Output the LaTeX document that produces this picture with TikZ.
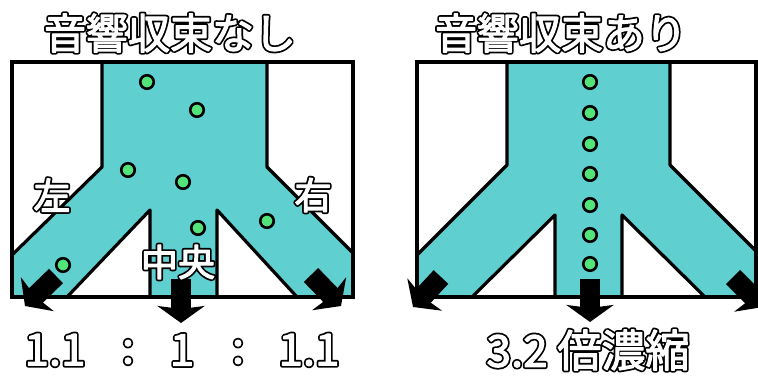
\documentclass[tikz,border=0pt]{standalone}
\usepackage{fontspec}
\newfontfamily\jp{Noto Sans CJK JP}
\usetikzlibrary{arrows.meta}
\definecolor{tealc}{RGB}{95,207,208}
\definecolor{dotg}{RGB}{82,228,120}
\newcommand\olt[1]{\rlap{\color{black}\special{pdf:literal direct 0 G 2 Tr 4.6 w 1 j}#1\special{pdf:literal direct 0 Tr}}{\color{white}\special{pdf:literal direct 1 G 2 Tr 1.1 w 1 j}#1\special{pdf:literal direct 0 Tr}}}
\tikzset{
  chan/.style={fill=tealc, draw=black, line width=3.2pt, line join=round},
  boxl/.style={draw=black, line width=3.5pt},
  dot/.style={circle, fill=dotg, draw=black, line width=2.6pt, minimum size=13.5pt, inner sep=0pt},
  fat/.style={line width=20pt, -{Stealth[length=17pt,width=47pt,inset=3pt]}},
  title/.style={inner sep=0pt, font=\jp\fontsize{42}{42}\selectfont},
  lbl/.style={inner sep=0pt, font=\jp\fontsize{37}{37}\selectfont},
  num/.style={inner sep=0pt, font=\jp\fontsize{44}{44}\selectfont},
}
\begin{document}
\begin{tikzpicture}[x=1pt,y=-1pt]
\useasboundingbox (0,0) rectangle (758,378);
% ---------- left panel ----------
\fill[white] (12,62) rectangle (353,297);
\draw[chan] (102,62) -- (267,62) -- (267,167) -- (353,253) -- (353,297) -- (297,297)
  -- (217,210) -- (217,297) -- (150,297) -- (150,210) -- (67,297) -- (12,297)
  -- (12,255) -- (102,167) -- cycle;
\draw[boxl] (12,62) rectangle (353,297);
\node[dot] (l1) at (147,82) {};
\node[dot] (l2) at (197,110) {};
\node[dot] (l3) at (128,170) {};
\node[dot] (l4) at (183,182) {};
\node[dot] (l5) at (198,228) {};
\node[dot] (l6) at (267,221) {};
\node[dot] (l7) at (63,265) {};
\coordinate (la0) at (56,276);  \coordinate (la1) at (25,306);
\coordinate (lb0) at (181,279); \coordinate (lb1) at (181,323);
\coordinate (lc0) at (311,275); \coordinate (lc1) at (341,306);
\draw[fat] (la0) -- (la1);
\draw[fat] (lb0) -- (lb1);
\draw[fat] (lc0) -- (lc1);
% ---------- right panel ----------
\fill[white] (417,62) rectangle (756,297);
\draw[chan] (507,62) -- (670,62) -- (670,165) -- (756,251) -- (756,297) -- (705,297)
  -- (622,215) -- (622,297) -- (555,297) -- (555,215) -- (472,297) -- (417,297)
  -- (417,255) -- (507,165) -- cycle;
\draw[boxl] (417,62) rectangle (756,297);
\foreach \i/\y in {1/82,2/113,3/144,4/174,5/205,6/235,7/264}
  \node[dot] (r\i) at (590,\y) {};
\coordinate (ra0) at (441,277); \coordinate (ra1) at (413,307);
\coordinate (rb0) at (590,279); \coordinate (rb1) at (590,322);
\coordinate (rc0) at (733,277); \coordinate (rc1) at (763,307);
\draw[fat] (ra0) -- (ra1);
\draw[fat] (rb0) -- (rb1);
\draw[fat] (rc0) -- (rc1);
% ---------- texts ----------
\node[title] (tl) at (170,33) {\olt{音響収束なし}};
\node[title] (tr) at (561,33) {\olt{音響収束あり}};
\node[lbl] (left) at (52,195) {\olt{左}};
\node[lbl] (right) at (313,195) {\olt{右}};
\node[lbl] (center) at (178,262) {\olt{中央}};
\node[num] (n1) at (55,350) {\olt{1.1}};
\node[num] (n2) at (128,352) {\olt{:}};
\node[num] (n3) at (182,350) {\olt{1}};
\node[num] (n4) at (238,352) {\olt{:}};
\node[num] (n5) at (309,350) {\olt{1.1}};
\node[num] (n6) at (588,350) {\olt{3.2 倍濃縮}};
\end{tikzpicture}
\end{document}
